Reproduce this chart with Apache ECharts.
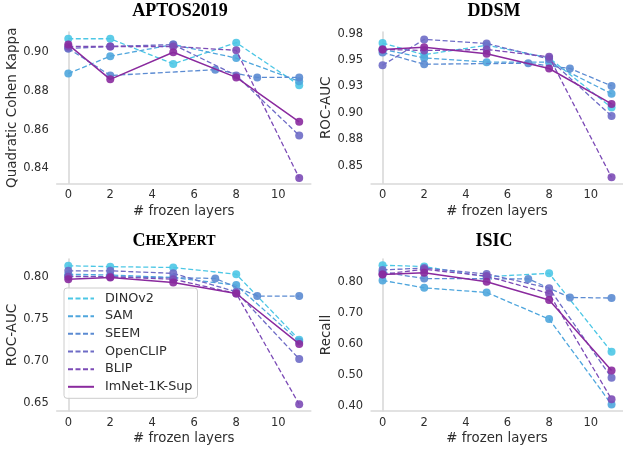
<!DOCTYPE html>
<html>
<head>
<meta charset="utf-8">
<script src="https://cdn.jsdelivr.net/npm/echarts@6/dist/echarts.min.js"></script>
<style>html,body{margin:0;padding:0;background:#fff}#c{width:623px;height:450px}</style>
</head>
<body>
<div id="c"></div>
<script>
// ---- data ----
const seriesNames = ['DINOv2', 'SAM', 'SEEM', 'OpenCLIP', 'BLIP', 'ImNet-1K-Sup'];
const xLayers = [0, 2, 5, 8, 11];
const xLayersSEEM = [0, 2, 7, 9, 11];
const xTicks = [0, 2, 4, 6, 8, 10];

// APTOS2019 (Quadratic Cohen Kappa)
const aptosDINOv2 = [0.907, 0.907, 0.894, 0.905, 0.883];
const aptosSAM = [0.889, 0.898, 0.904, 0.897, 0.885];
const aptosSEEM = [0.902, 0.888, 0.891, 0.887, 0.887];
const aptosOpenCLIP = [0.902, 0.903, 0.904, 0.888, 0.857];
const aptosBLIP = [0.903, 0.903, 0.903, 0.901, 0.835];
const aptosImNet = [0.904, 0.886, 0.900, 0.887, 0.864];
const aptosTicks = [0.84, 0.86, 0.88, 0.90];
const aptosTickLabels = ['0.84', '0.86', '0.88', '0.90'];

// DDSM (ROC-AUC)
const ddsmDINOv2 = [0.966, 0.955, 0.964, 0.952, 0.905];
const ddsmSAM = [0.960, 0.952, 0.948, 0.948, 0.918];
const ddsmSEEM = [0.957, 0.946, 0.947, 0.942, 0.9255];
const ddsmOpenCLIP = [0.945, 0.9695, 0.9656, 0.951, 0.897];
const ddsmBLIP = [0.960, 0.959, 0.960, 0.953, 0.839];
const ddsmImNet = [0.960, 0.962, 0.956, 0.942, 0.9085];
const ddsmTicks = [0.85, 0.875, 0.90, 0.925, 0.95, 0.975];
const ddsmTickLabels = ['0.85', '0.88', '0.90', '0.93', '0.95', '0.98'];

// CheXpert (ROC-AUC)
const chexDINOv2 = [0.813, 0.812, 0.811, 0.803, 0.725];
const chexSAM = [0.803, 0.802, 0.799, 0.790, 0.723];
const chexSEEM = [0.801, 0.800, 0.798, 0.777, 0.777];
const chexOpenCLIP = [0.807, 0.807, 0.804, 0.782, 0.702];
const chexBLIP = [0.800, 0.800, 0.797, 0.780, 0.648];
const chexImNet = [0.797, 0.799, 0.793, 0.780, 0.720];
const chexTicks = [0.65, 0.70, 0.75, 0.80];
const chexTickLabels = ['0.65', '0.70', '0.75', '0.80'];

// ISIC (Recall)
const isicDINOv2 = [0.855, 0.851, 0.818, 0.829, 0.575];
const isicSAM = [0.806, 0.782, 0.767, 0.681, 0.405];
const isicSEEM = [0.833, 0.812, 0.811, 0.751, 0.749];
const isicOpenCLIP = [0.840, 0.846, 0.827, 0.781, 0.491];
const isicBLIP = [0.826, 0.842, 0.820, 0.764, 0.422];
const isicImNet = [0.825, 0.831, 0.802, 0.743, 0.515];
const isicTicks = [0.40, 0.50, 0.60, 0.70, 0.80];
const isicTickLabels = ['0.40', '0.50', '0.60', '0.70', '0.80'];

// ---- styling / layout ----
const colors = ['#4cc7e5', '#4fa6dd', '#5b8bd2', '#6e6cc6', '#7c4bb6', '#8a2a9e'];
const panels = [
  { title: 'APTOS2019', yName: 'Quadratic Cohen Kappa', vals: [aptosDINOv2, aptosSAM, aptosSEEM, aptosOpenCLIP, aptosBLIP, aptosImNet],
    ticks: aptosTicks, labels: aptosTickLabels, min: 0.8321, max: 0.9105,
    grid: { left: 56.75, top: 32, width: 254, height: 151.5 }, titleX: 180, titleY: 2.5 },
  { title: 'DDSM', yName: 'ROC-AUC', vals: [ddsmDINOv2, ddsmSAM, ddsmSEEM, ddsmOpenCLIP, ddsmBLIP, ddsmImNet],
    ticks: ddsmTicks, labels: ddsmTickLabels, min: 0.8332, max: 0.9765,
    grid: { left: 371.1, top: 32, width: 255, height: 151.5 }, titleX: 494, titleY: 2.5 },
  { title: 'CheXpert', yName: 'ROC-AUC', vals: [chexDINOv2, chexSAM, chexSEEM, chexOpenCLIP, chexBLIP, chexImNet],
    ticks: chexTicks, labels: chexTickLabels, min: 0.6401, max: 0.8211,
    grid: { left: 56.75, top: 259, width: 254, height: 152 }, titleX: 174, titleY: 232, smallCaps: true },
  { title: 'ISIC', yName: 'Recall', vals: [isicDINOv2, isicSAM, isicSEEM, isicOpenCLIP, isicBLIP, isicImNet],
    ticks: isicTicks, labels: isicTickLabels, min: 0.3838, max: 0.8753,
    grid: { left: 371.1, top: 259, width: 255, height: 152 }, titleX: 494, titleY: 232 }
];

const textColor = '#2e2e2e';
const spine = { show: true, lineStyle: { color: '#d9d9d9', width: 1.6 } };

const option = {
  animation: false,
  backgroundColor: '#ffffff',
  title: [], grid: [], xAxis: [], yAxis: [], series: [],
  legend: {
    data: seriesNames,
    orient: 'vertical',
    left: 64, top: 288,
    padding: [4, 5, 5, 3],
    itemWidth: 26, itemHeight: 14, itemGap: 4.66,
    backgroundColor: 'rgba(255,255,255,0.85)',
    borderColor: '#cccccc', borderWidth: 1, borderRadius: 3,
    itemStyle: { opacity: 0 },
    textStyle: { fontFamily: 'DejaVu Sans', fontSize: 12.8, color: textColor, padding: [0, 0, 0, 6] }
  }
};

panels.forEach((p, i) => {
  option.title.push({
    text: p.smallCaps ? '{a|C}{b|HE}{a|X}{b|PERT}' : p.title,
    left: p.titleX, top: p.titleY, textAlign: 'center', padding: 0,
    textStyle: {
      fontFamily: 'Liberation Serif', fontWeight: 'bold', fontSize: 18, color: '#000',
      rich: {
        a: { fontFamily: 'Liberation Serif', fontWeight: 'bold', fontSize: 18, color: '#000' },
        b: { fontFamily: 'Liberation Serif', fontWeight: 'bold', fontSize: 14, color: '#000' }
      }
    }
  });
  option.grid.push(Object.assign({ containLabel: false }, p.grid));
  option.xAxis.push({
    gridIndex: i, type: 'value', min: -0.55, max: 11.55,
    axisLine: spine, axisTick: { show: false }, splitLine: { show: false },
    axisLabel: { customValues: xTicks, color: textColor, fontFamily: 'DejaVu Sans', fontSize: 11.5, margin: 6 },
    name: '# frozen layers', nameLocation: 'middle', nameGap: 21.5,
    nameTextStyle: { fontFamily: 'DejaVu Sans', fontSize: 13.3, color: textColor }
  });
  option.yAxis.push({
    gridIndex: i, type: 'value', min: p.min, max: p.max,
    axisLine: spine, axisTick: { show: false }, splitLine: { show: false },
    axisLabel: {
      customValues: p.ticks, color: textColor, fontFamily: 'DejaVu Sans', fontSize: 11.5, margin: 8,
      formatter: (v) => {
        let best = 0;
        p.ticks.forEach((t, k) => { if (Math.abs(t - v) < Math.abs(p.ticks[best] - v)) best = k; });
        return p.labels[best];
      }
    },
    name: p.yName, nameLocation: 'middle', nameGap: 35, nameRotate: 90,
    nameTextStyle: { fontFamily: 'DejaVu Sans', fontSize: 13.5, color: textColor }
  });
  seriesNames.forEach((name, s) => {
    const xs = name === 'SEEM' ? xLayersSEEM : xLayers;
    const solid = name === 'ImNet-1K-Sup';
    option.series.push({
      name: name, type: 'line', xAxisIndex: i, yAxisIndex: i,
      data: p.vals[s].map((v, k) => [xs[k], v]),
      symbol: 'circle', symbolSize: 8,
      itemStyle: { color: colors[s], opacity: 0.9 },
      lineStyle: { color: colors[s], width: solid ? 1.5 : 1.3, type: solid ? 'solid' : [5, 2.5] },
      z: 2 + s, clip: false
    });
  });
});

const chart = echarts.init(document.getElementById('c'), null, { renderer: 'canvas' });
chart.setOption(option);
</script>
</body>
</html>
